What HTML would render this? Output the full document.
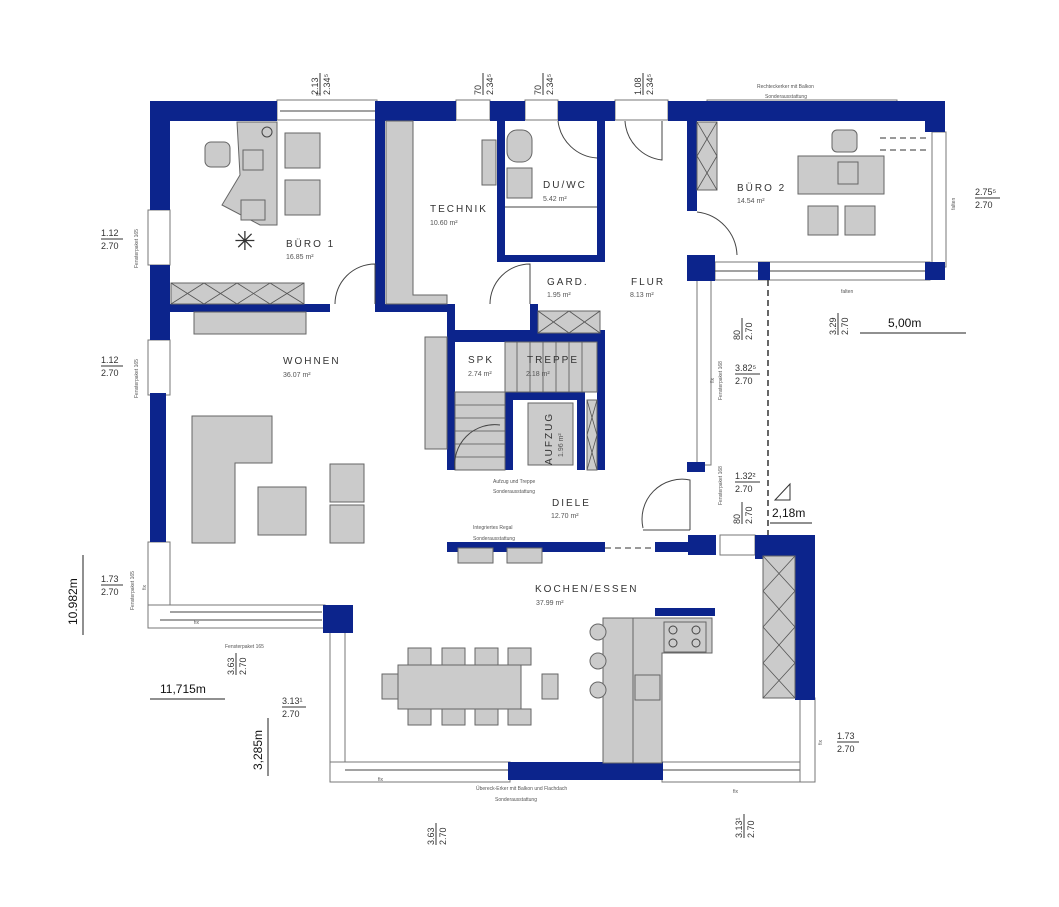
<!DOCTYPE html>
<html><head><meta charset="utf-8"><style>
html,body{margin:0;padding:0;background:#fff;}
svg{display:block;font-family:"Liberation Sans",sans-serif;}
.w{fill:#0c248c;}
.f{fill:#cbcbcb;stroke:#666;stroke-width:1;}
.win{fill:#fff;stroke:#777;stroke-width:1;}
.t{font-size:10px;fill:#333;letter-spacing:2px;}
.a{font-size:7px;fill:#555;}
.s{font-size:5px;fill:#555;}
.d{font-size:9px;fill:#333;}
.ln{stroke:#444;stroke-width:1;fill:none;}
.dash{stroke:#333;stroke-width:1.5;stroke-dasharray:6,4;fill:none;}
.x{stroke:#555;stroke-width:0.8;}
</style></head><body>
<svg width="1059" height="907" viewBox="0 0 1059 907" xmlns="http://www.w3.org/2000/svg">
<rect class="win" x="277" y="100" width="100" height="20"/>
<line class="ln" x1="280" y1="111" x2="375" y2="111"/>
<rect class="win" x="456" y="100" width="34" height="20"/>
<rect class="win" x="525" y="100" width="33" height="20"/>
<rect class="win" x="615" y="100" width="53" height="20"/>
<rect class="win" x="707" y="100" width="190" height="3"/>
<rect class="win" x="148" y="210" width="22" height="55"/>
<rect class="win" x="148" y="340" width="22" height="55"/>
<rect class="win" x="148" y="542" width="22" height="86"/>
<rect class="win" x="148" y="605" width="177" height="23"/>
<line class="ln" x1="170" y1="612" x2="322" y2="612"/>
<line class="ln" x1="160" y1="620" x2="322" y2="620"/>
<rect class="win" x="330" y="630" width="15" height="152"/>
<rect class="win" x="330" y="762" width="180" height="20"/>
<line class="ln" x1="345" y1="770" x2="508" y2="770"/>
<rect class="win" x="662" y="762" width="153" height="20"/>
<line class="ln" x1="662" y1="770" x2="800" y2="770"/>
<rect class="win" x="800" y="698" width="15" height="84"/>
<rect class="win" x="932" y="132" width="14" height="135"/>
<rect class="win" x="715" y="262" width="215" height="18"/>
<line class="ln" x1="715" y1="271" x2="925" y2="271"/>
<rect class="win" x="697" y="280" width="14" height="185"/>
<rect class="win" x="720" y="535" width="35" height="20"/>
<rect class="w" x="150" y="101" width="127" height="20"/>
<rect class="w" x="377" y="101" width="79" height="20"/>
<rect class="w" x="490" y="101" width="35" height="20"/>
<rect class="w" x="558" y="101" width="57" height="20"/>
<rect class="w" x="668" y="101" width="277" height="20"/>
<rect class="w" x="925" y="101" width="20" height="31"/>
<rect class="w" x="150" y="101" width="20" height="109"/>
<rect class="w" x="150" y="265" width="20" height="75"/>
<rect class="w" x="150" y="393" width="16" height="149"/>
<rect class="w" x="323" y="605" width="30" height="28"/>
<rect class="w" x="508" y="762" width="155" height="18"/>
<rect class="w" x="755" y="535" width="60" height="24"/>
<rect class="w" x="795" y="535" width="20" height="165"/>
<rect class="w" x="655" y="608" width="60" height="8"/>
<rect class="w" x="375" y="101" width="10" height="210"/>
<rect class="w" x="170" y="304" width="160" height="8"/>
<rect class="w" x="375" y="304" width="75" height="8"/>
<rect class="w" x="447" y="304" width="8" height="166"/>
<rect class="w" x="497" y="118" width="8" height="144"/>
<rect class="w" x="597" y="118" width="8" height="144"/>
<rect class="w" x="497" y="255" width="108" height="7"/>
<rect class="w" x="530" y="304" width="8" height="30"/>
<rect class="w" x="447" y="330" width="158" height="12"/>
<rect class="w" x="597" y="330" width="8" height="140"/>
<rect class="w" x="505" y="392" width="80" height="8"/>
<rect class="w" x="505" y="392" width="8" height="78"/>
<rect class="w" x="577" y="392" width="8" height="78"/>
<rect class="w" x="687" y="121" width="10" height="90"/>
<rect class="w" x="687" y="255" width="28" height="26"/>
<rect class="w" x="758" y="262" width="12" height="18"/>
<rect class="w" x="925" y="262" width="20" height="18"/>
<rect class="w" x="687" y="462" width="18" height="10"/>
<rect class="w" x="447" y="542" width="158" height="10"/>
<rect class="w" x="655" y="542" width="50" height="10"/>
<rect class="w" x="688" y="535" width="28" height="20"/>
<line class="dash" x1="605" y1="548" x2="655" y2="548" style="stroke-width:1"/>
<path class="f" d="M237,122 L277,122 L277,225 L260,225 L222,205 L240,175 Z"/>
<rect class="f" x="285" y="133" width="35" height="35"/>
<rect class="f" x="285" y="180" width="35" height="35"/>
<rect class="f" x="205" y="142" width="25" height="25" rx="6"/>
<rect class="f" x="243" y="150" width="20" height="20"/>
<rect class="f" x="241" y="200" width="24" height="20"/>
<circle cx="267" cy="132" r="5" class="ln"/>
<text x="234" y="250" font-size="26" fill="#333">✳</text>
<rect class="f" x="171" y="283" width="133" height="21"/>
<g class="x"><line x1="171" y1="283" x2="204" y2="304"/><line x1="204" y1="283" x2="171" y2="304"/><line x1="204" y1="283" x2="237" y2="304"/><line x1="237" y1="283" x2="204" y2="304"/><line x1="237" y1="283" x2="270" y2="304"/><line x1="270" y1="283" x2="237" y2="304"/><line x1="270" y1="283" x2="304" y2="304"/><line x1="304" y1="283" x2="270" y2="304"/></g>
<path class="ln" d="M335,304 A40,40 0 0 1 375,264 L375,304"/>
<path class="f" d="M386,121 L413,121 L413,295 L447,295 L447,304 L386,304 Z"/>
<rect class="f" x="482" y="140" width="14" height="45"/>
<path class="ln" d="M490,304 A40,40 0 0 1 530,264 L530,304"/>
<rect class="f" x="507" y="130" width="25" height="32" rx="10"/>
<rect class="f" x="507" y="168" width="25" height="30"/>
<path class="ln" d="M558,121 A42,42 0 0 0 597,158"/>
<line class="ln" x1="505" y1="207" x2="597" y2="207"/>
<rect class="f" x="538" y="311" width="62" height="22"/>
<g class="x"><line x1="538" y1="311" x2="569" y2="333"/><line x1="569" y1="311" x2="538" y2="333"/><line x1="569" y1="311" x2="600" y2="333"/><line x1="600" y1="311" x2="569" y2="333"/></g>
<path class="ln" d="M625,121 A42,42 0 0 0 662,160 L662,121"/>
<rect class="f" x="194" y="312" width="112" height="22"/>
<rect class="f" x="425" y="337" width="22" height="112"/>
<path class="f" d="M192,416 L272,416 L272,463 L235,463 L235,543 L192,543 Z"/>
<rect class="f" x="258" y="487" width="48" height="48"/>
<rect class="f" x="330" y="464" width="34" height="38"/>
<rect class="f" x="330" y="505" width="34" height="38"/>
<rect class="f" x="505" y="342" width="92" height="50"/>
<rect class="f" x="455" y="392" width="50" height="78"/>
<g class="x"><line x1="517" y1="342" x2="517" y2="392"/><line x1="530" y1="342" x2="530" y2="392"/><line x1="543" y1="342" x2="543" y2="392"/><line x1="556" y1="342" x2="556" y2="392"/><line x1="569" y1="342" x2="569" y2="392"/><line x1="582" y1="342" x2="582" y2="392"/><line x1="455" y1="405" x2="505" y2="405"/><line x1="455" y1="418" x2="505" y2="418"/><line x1="455" y1="431" x2="505" y2="431"/><line x1="455" y1="444" x2="505" y2="444"/><line x1="455" y1="457" x2="505" y2="457"/></g>
<path class="ln" d="M455,470 A40,40 0 0 1 500,425"/>
<rect class="f" x="528" y="403" width="45" height="62"/>
<rect class="f" x="587" y="400" width="10" height="70"/>
<g class="x"><line x1="587" y1="400" x2="597" y2="435"/><line x1="597" y1="400" x2="587" y2="435"/><line x1="587" y1="435" x2="597" y2="470"/><line x1="597" y1="435" x2="587" y2="470"/></g>
<path class="ln" d="M643,528 A40,40 0 0 1 690,480 L690,530"/>
<line class="ln" x1="643" y1="530" x2="690" y2="530"/>
<rect class="f" x="458" y="548" width="35" height="15"/>
<rect class="f" x="507" y="548" width="35" height="15"/>
<rect class="f" x="697" y="122" width="20" height="68"/>
<g class="x"><line x1="697" y1="122" x2="717" y2="156"/><line x1="717" y1="122" x2="697" y2="156"/><line x1="697" y1="156" x2="717" y2="190"/><line x1="717" y1="156" x2="697" y2="190"/></g>
<rect class="f" x="798" y="156" width="86" height="38"/>
<rect class="f" x="832" y="130" width="25" height="22" rx="5"/>
<rect class="f" x="838" y="162" width="20" height="22"/>
<rect class="f" x="808" y="206" width="30" height="29"/>
<rect class="f" x="845" y="206" width="30" height="29"/>
<path class="ln" d="M697,212 A45,45 0 0 1 737,255"/>
<line class="dash" x1="880" y1="138" x2="930" y2="138" style="stroke-width:1"/>
<line class="dash" x1="880" y1="150" x2="930" y2="150" style="stroke-width:1"/>
<line class="dash" x1="768" y1="280" x2="768" y2="535"/>
<rect class="f" x="763" y="556" width="32" height="142"/>
<g class="x"><line x1="763" y1="556" x2="795" y2="591"/><line x1="795" y1="556" x2="763" y2="591"/><line x1="763" y1="591" x2="795" y2="627"/><line x1="795" y1="591" x2="763" y2="627"/><line x1="763" y1="627" x2="795" y2="663"/><line x1="795" y1="627" x2="763" y2="663"/><line x1="763" y1="663" x2="795" y2="698"/><line x1="795" y1="663" x2="763" y2="698"/></g>
<rect class="f" x="603" y="618" width="30" height="145"/>
<path class="f" d="M633,618 L712,618 L712,653 L662,653 L662,763 L633,763 Z"/>
<rect class="f" x="664" y="622" width="42" height="30"/>
<circle cx="673" cy="630" r="4" class="ln"/><circle cx="696" cy="630" r="4" class="ln"/><circle cx="673" cy="643" r="4" class="ln"/><circle cx="696" cy="643" r="4" class="ln"/>
<rect class="f" x="635" y="675" width="25" height="25"/>
<circle cx="598" cy="632" r="8" class="f"/><circle cx="598" cy="661" r="8" class="f"/><circle cx="598" cy="690" r="8" class="f"/>
<rect class="f" x="398" y="665" width="123" height="44"/>
<g class="f"><rect x="408" y="648" width="23" height="17"/><rect x="442" y="648" width="23" height="17"/><rect x="475" y="648" width="23" height="17"/><rect x="508" y="648" width="23" height="17"/><rect x="408" y="709" width="23" height="16"/><rect x="442" y="709" width="23" height="16"/><rect x="475" y="709" width="23" height="16"/><rect x="508" y="709" width="23" height="16"/><rect x="382" y="674" width="16" height="25"/><rect x="542" y="674" width="16" height="25"/></g>
<text class="t" x="286" y="247">BÜRO 1</text><text class="a" x="286" y="259">16.85 m²</text>
<text class="t" x="430" y="212">TECHNIK</text><text class="a" x="430" y="225">10.60 m²</text>
<text class="t" x="543" y="188">DU/WC</text><text class="a" x="543" y="201">5.42 m²</text>
<text class="t" x="547" y="285">GARD.</text><text class="a" x="547" y="297">1.95 m²</text>
<text class="t" x="631" y="285">FLUR</text><text class="a" x="630" y="297">8.13 m²</text>
<text class="t" x="737" y="191">BÜRO 2</text><text class="a" x="737" y="203">14.54 m²</text>
<text class="t" x="283" y="364">WOHNEN</text><text class="a" x="283" y="377">36.07 m²</text>
<text class="t" x="468" y="363">SPK</text><text class="a" x="468" y="376">2.74 m²</text>
<text class="t" x="527" y="363">TREPPE</text><text class="a" x="526" y="376">2.18 m²</text>
<text class="t" transform="translate(552,465) rotate(-90)">AUFZUG</text>
<text class="a" transform="translate(563,457) rotate(-90)">1.96 m²</text>
<text class="s" x="493" y="483">Aufzug und Treppe</text><text class="s" x="493" y="493">Sonderausstattung</text>
<text class="t" x="552" y="506">DIELE</text><text class="a" x="551" y="518">12.70 m²</text>
<text class="s" x="473" y="529">Integriertes Regal</text><text class="s" x="473" y="540">Sonderausstattung</text>
<text class="t" x="535" y="592">KOCHEN/ESSEN</text><text class="a" x="536" y="605">37.99 m²</text>
<text class="s" x="476" y="790">Übereck-Erker mit Balkon und Flachdach</text><text class="s" x="495" y="801">Sonderausstattung</text>
<text class="s" x="757" y="88">Rechteckerker mit Balkon</text><text class="s" x="765" y="98">Sonderausstattung</text>
<text class="s" x="316" y="96">fix</text>
<text class="s" x="194" y="624">fix</text><text class="s" x="378" y="781">fix</text><text class="s" x="733" y="793">fix</text>
<text class="s" x="841" y="293">falten</text>
<text class="s" transform="translate(955,210) rotate(-90)">falten</text>
<text class="s" transform="translate(146,590) rotate(-90)">fix</text>
<text class="s" transform="translate(822,745) rotate(-90)">fix</text>
<text class="s" transform="translate(714,383) rotate(-90)">fix</text>
<text class="s" transform="translate(138,268) rotate(-90)">Fensterpaket 165</text>
<text class="s" transform="translate(138,398) rotate(-90)">Fensterpaket 165</text>
<text class="s" transform="translate(134,610) rotate(-90)">Fensterpaket 165</text>
<text class="s" transform="translate(722,400) rotate(-90)">Fensterpaket 168</text>
<text class="s" transform="translate(722,505) rotate(-90)">Fensterpaket 168</text>
<text class="s" x="225" y="648">Fensterpaket 165</text>
<g class="d">
<g transform="translate(320,95) rotate(-90)"><text x="0" y="-2">2.13</text><line x1="0" y1="0" x2="22" y2="0" stroke="#333"/><text x="0" y="10">2.34⁵</text></g>
<g transform="translate(483,95) rotate(-90)"><text x="0" y="-2">70</text><line x1="0" y1="0" x2="22" y2="0" stroke="#333"/><text x="0" y="10">2.34⁵</text></g>
<g transform="translate(543,95) rotate(-90)"><text x="0" y="-2">70</text><line x1="0" y1="0" x2="22" y2="0" stroke="#333"/><text x="0" y="10">2.34⁵</text></g>
<g transform="translate(643,95) rotate(-90)"><text x="0" y="-2">1.08</text><line x1="0" y1="0" x2="22" y2="0" stroke="#333"/><text x="0" y="10">2.34⁵</text></g>
<g transform="translate(101,239)"><text y="-3">1.12</text><line x1="0" y1="0" x2="22" y2="0" stroke="#333"/><text y="10">2.70</text></g>
<g transform="translate(101,366)"><text y="-3">1.12</text><line x1="0" y1="0" x2="22" y2="0" stroke="#333"/><text y="10">2.70</text></g>
<g transform="translate(101,585)"><text y="-3">1.73</text><line x1="0" y1="0" x2="22" y2="0" stroke="#333"/><text y="10">2.70</text></g>
<g transform="translate(282,707)"><text y="-3">3.13¹</text><line x1="0" y1="0" x2="24" y2="0" stroke="#333"/><text y="10">2.70</text></g>
<g transform="translate(837,742)"><text y="-3">1.73</text><line x1="0" y1="0" x2="22" y2="0" stroke="#333"/><text y="10">2.70</text></g>
<g transform="translate(975,198)"><text y="-3">2.75⁵</text><line x1="0" y1="0" x2="25" y2="0" stroke="#333"/><text y="10">2.70</text></g>
<g transform="translate(735,374)"><text y="-3">3.82⁵</text><line x1="0" y1="0" x2="25" y2="0" stroke="#333"/><text y="10">2.70</text></g>
<g transform="translate(735,482)"><text y="-3">1.32²</text><line x1="0" y1="0" x2="25" y2="0" stroke="#333"/><text y="10">2.70</text></g>
<g transform="translate(742,340) rotate(-90)"><text y="-2">80</text><line x1="0" y1="0" x2="22" y2="0" stroke="#333"/><text y="10">2.70</text></g>
<g transform="translate(742,524) rotate(-90)"><text y="-2">80</text><line x1="0" y1="0" x2="22" y2="0" stroke="#333"/><text y="10">2.70</text></g>
<g transform="translate(838,335) rotate(-90)"><text y="-2">3.29</text><line x1="0" y1="0" x2="22" y2="0" stroke="#333"/><text y="10">2.70</text></g>
<g transform="translate(236,675) rotate(-90)"><text y="-2">3.63</text><line x1="0" y1="0" x2="22" y2="0" stroke="#333"/><text y="10">2.70</text></g>
<g transform="translate(436,845) rotate(-90)"><text y="-2">3.63</text><line x1="0" y1="0" x2="22" y2="0" stroke="#333"/><text y="10">2.70</text></g>
<g transform="translate(744,838) rotate(-90)"><text y="-2">3.13¹</text><line x1="0" y1="0" x2="24" y2="0" stroke="#333"/><text y="10">2.70</text></g>
</g>
<g font-size="12" fill="#111">
<text transform="translate(77,625) rotate(-90)">10.982m</text>
<line x1="83" y1="555" x2="83" y2="635" stroke="#222"/>
<text x="160" y="693">11,715m</text>
<line x1="150" y1="699" x2="225" y2="699" stroke="#222"/>
<text transform="translate(262,770) rotate(-90)">3,285m</text>
<line x1="268" y1="718" x2="268" y2="776" stroke="#222"/>
<text x="888" y="327">5,00m</text>
<line x1="860" y1="333" x2="966" y2="333" stroke="#222"/>
<text x="772" y="517">2,18m</text>
<line x1="770" y1="523" x2="812" y2="523" stroke="#222"/>
</g>
<path d="M790,484 L775,500 L790,500 Z" fill="none" stroke="#333"/>
</svg>
</body></html>
